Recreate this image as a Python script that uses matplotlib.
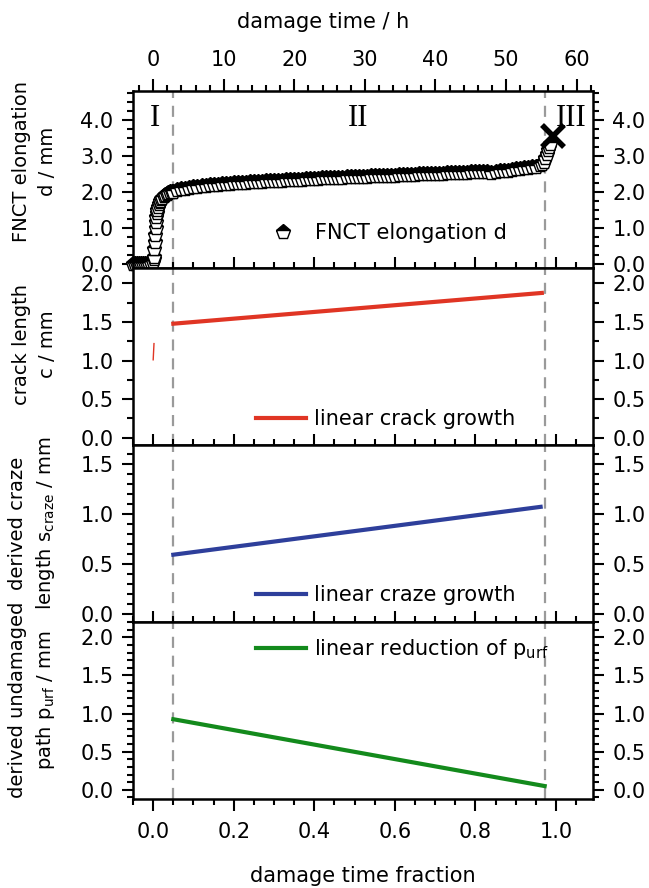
import numpy as np
import matplotlib.pyplot as plt
from matplotlib.ticker import MultipleLocator, FuncFormatter

# FNCT elongation d (mm) vs damage time fraction
frac_elong = [-0.05, -0.045, -0.04, -0.035, -0.03, -0.025, -0.02, -0.015, -0.01, -0.005,
              0.0, 0.001, 0.002, 0.003, 0.004, 0.005, 0.006, 0.007, 0.008, 0.009,
              0.010, 0.012, 0.014, 0.016, 0.018, 0.020, 0.023, 0.026, 0.030, 0.034,
              0.038, 0.042, 0.046,
              0.05, 0.06, 0.07, 0.08, 0.09, 0.10, 0.11, 0.12, 0.13, 0.14,
              0.15, 0.16, 0.17, 0.18, 0.19, 0.20, 0.21, 0.22, 0.23, 0.24,
              0.25, 0.26, 0.27, 0.28, 0.29, 0.30, 0.31, 0.32, 0.33, 0.34,
              0.35, 0.36, 0.37, 0.38, 0.39, 0.40, 0.41, 0.42, 0.43, 0.44,
              0.45, 0.46, 0.47, 0.48, 0.49, 0.50, 0.51, 0.52, 0.53, 0.54,
              0.55, 0.56, 0.57, 0.58, 0.59, 0.60, 0.61, 0.62, 0.63, 0.64,
              0.65, 0.66, 0.67, 0.68, 0.69, 0.70, 0.71, 0.72, 0.73, 0.74,
              0.75, 0.76, 0.77, 0.78, 0.79, 0.80, 0.81, 0.82, 0.83, 0.84,
              0.85, 0.86, 0.87, 0.88, 0.89, 0.90, 0.91, 0.92, 0.93, 0.94,
              0.95, 0.96, 0.965, 0.97, 0.974, 0.977, 0.980, 0.983, 0.986]
elong = [0.0, 0.0, 0.0, 0.0, 0.0, 0.0, 0.0, 0.0, 0.0, 0.02,
         0.05, 0.12, 0.2, 0.4, 0.6, 0.8, 1.0, 1.15, 1.3, 1.4,
         1.48, 1.58, 1.65, 1.71, 1.75, 1.79, 1.83, 1.87, 1.91, 1.94,
         1.96, 1.98, 1.99,
         2.00, 2.04, 2.07, 2.09, 2.11, 2.13, 2.14, 2.16, 2.17, 2.18,
         2.19, 2.20, 2.21, 2.22, 2.22, 2.23, 2.24, 2.25, 2.25, 2.26,
         2.27, 2.27, 2.28, 2.29, 2.29, 2.30, 2.31, 2.31, 2.32, 2.32,
         2.33, 2.34, 2.34, 2.35, 2.35, 2.36, 2.36, 2.37, 2.37, 2.38,
         2.38, 2.39, 2.39, 2.40, 2.40, 2.41, 2.41, 2.42, 2.42, 2.43,
         2.43, 2.44, 2.44, 2.44, 2.45, 2.45, 2.46, 2.46, 2.47, 2.47,
         2.47, 2.48, 2.48, 2.49, 2.49, 2.50, 2.50, 2.50, 2.51, 2.51,
         2.52, 2.52, 2.53, 2.53, 2.54, 2.54, 2.55, 2.55, 2.56, 2.52,
         2.55, 2.57, 2.58, 2.59, 2.61, 2.63, 2.64, 2.65, 2.66, 2.68,
         2.70, 2.75, 2.78, 2.82, 2.95, 3.05, 3.15, 3.25, 3.33]
break_frac = [0.9936]
break_d = [3.54]

# derived quantities (linear fits)
crack_frac = [0.05, 0.965]
crack_len = [1.478, 1.877]
crack_start_frac = [0.0, 0.002]
crack_start_len = [1.01, 1.22]
craze_frac = [0.05, 0.962]
craze_len = [0.59, 1.07]
purf_frac = [0.05, 0.972]
purf_len = [0.926, 0.05]

stage_bounds = [0.05, 0.974]
stage_names = ['I', 'II', 'III']
stage_pos = [0.005, 0.51, 1.039]
total_hours = 57.07
hour_ticks = [0, 10, 20, 30, 40, 50, 60]

plt.rcParams['font.family'] = 'DejaVu Sans'
plt.rcParams['font.size'] = 15
plt.rcParams['mathtext.default'] = 'regular'

fig, axs = plt.subplots(4, 1, sharex=True, figsize=(6.49, 8.88), dpi=100)
plt.subplots_adjust(left=0.205, right=0.9137, top=0.8975, bottom=0.1002, hspace=0)

ax1, ax2, ax3, ax4 = axs

ax1.plot(frac_elong, elong, linestyle='none', marker='p', markersize=11,
         fillstyle='top', markerfacecolor='black', markerfacecoloralt='white',
         markeredgecolor='black', markeredgewidth=1.0, clip_on=False,
         label='FNCT elongation d')
ax1.plot(break_frac, break_d, linestyle='none', marker='x', markersize=16,
         markeredgewidth=4, color='black')
for name, xp in zip(stage_names, stage_pos):
    ax1.text(xp, 4.05, name, family='Liberation Serif', fontsize=22,
             ha='center', va='center')

ax2.plot(crack_frac, crack_len, color='#E03524', lw=3, label='linear crack growth')
ax2.plot(crack_start_frac, crack_start_len, color='#E03524', lw=1)
ax3.plot(craze_frac, craze_len, color='#2E3F9B', lw=3, label='linear craze growth')
ax4.plot(purf_frac, purf_len, color='#138A1C', lw=3, label='linear reduction of p$_{urf}$')

ax1.set_ylim(-0.12, 4.8)
ax2.set_ylim(-0.095, 2.2)
ax3.set_ylim(-0.085, 1.69)
ax4.set_ylim(-0.12, 2.2)
ax1.set_xlim(-0.05, 1.092)

ax1.yaxis.set_major_locator(MultipleLocator(1.0))
ax1.yaxis.set_minor_locator(MultipleLocator(0.25))
ax2.yaxis.set_major_locator(MultipleLocator(0.5))
ax2.yaxis.set_minor_locator(MultipleLocator(0.25))
ax3.yaxis.set_major_locator(MultipleLocator(0.5))
ax3.yaxis.set_minor_locator(MultipleLocator(0.1))
ax4.yaxis.set_major_locator(MultipleLocator(0.5))
ax4.yaxis.set_minor_locator(MultipleLocator(0.1))

ylabels = ['FNCT elongation\nd / mm', 'crack length\nc / mm',
           'derived craze\nlength s$_{craze}$ / mm', 'derived undamaged\npath p$_{urf}$ / mm']
label_y = [0.6, 0.57, 0.56, 0.56]
for ax, lab, ly in zip(axs, ylabels, label_y):
    for sp in ax.spines.values():
        sp.set_linewidth(1.8)
    for b in stage_bounds:
        ax.axvline(b, color='#9A9A9A', lw=1.6, dashes=(5, 3.5), zorder=0)
    ax.yaxis.set_major_formatter(FuncFormatter(lambda v, p: '%.1f' % v))
    ax.tick_params(axis='y', which='both', direction='out', left=True, right=True,
                   labelleft=True, labelright=True, width=1.5, pad=6)
    ax.tick_params(axis='y', which='major', length=8)
    ax.tick_params(axis='y', which='minor', length=4.5)
    ax.set_ylabel(lab, fontsize=14, linespacing=1.45)
    ax.yaxis.set_label_coords(-0.165, ly)
    if ax is not ax4:
        ax.xaxis.set_major_locator(MultipleLocator(0.1))
        ax.xaxis.set_minor_locator(MultipleLocator(0.05))
        ax.tick_params(axis='x', which='both', direction='in', top=False, bottom=True,
                       labelbottom=False, width=1.5)
        ax.tick_params(axis='x', which='major', length=8)
        ax.tick_params(axis='x', which='minor', length=4.5)

ax4.xaxis.set_major_locator(MultipleLocator(0.2))
ax4.xaxis.set_minor_locator(MultipleLocator(0.05))
ax4.xaxis.set_major_formatter(FuncFormatter(lambda v, p: '%.1f' % v))
ax4.tick_params(axis='x', which='both', direction='out', top=False, bottom=True,
                labelbottom=True, width=1.5, pad=8)
ax4.tick_params(axis='x', which='major', length=8.5)
ax4.tick_params(axis='x', which='minor', length=4.5)
ax4.set_xlabel('damage time fraction', labelpad=17)

top = ax1.secondary_xaxis('top', functions=(lambda f: f * total_hours,
                                              lambda h: h / total_hours))
top.set_xticks(hour_ticks)
top.xaxis.set_minor_locator(MultipleLocator(2))
top.tick_params(which='both', direction='out', width=1.5, pad=6)
top.tick_params(which='major', length=9)
top.tick_params(which='minor', length=4.5)
fig.text(323 / 649, 1 - 22 / 888, 'damage time / h', ha='center', va='center')

legend_pos = [(ax1, 0.29, 0.196, 1.6, 0.75), (ax2, 0.267, 0.146, 2.4, 0.38),
              (ax3, 0.267, 0.15, 2.4, 0.38), (ax4, 0.267, 0.846, 2.4, 0.38)]
for ax, lx, ly, hl, tp in legend_pos:
    ax.legend(loc='center left', bbox_to_anchor=(lx, ly), frameon=False,
              borderpad=0, borderaxespad=0, handlelength=hl, handletextpad=tp,
              numpoints=1)

fig.savefig('out.png')
